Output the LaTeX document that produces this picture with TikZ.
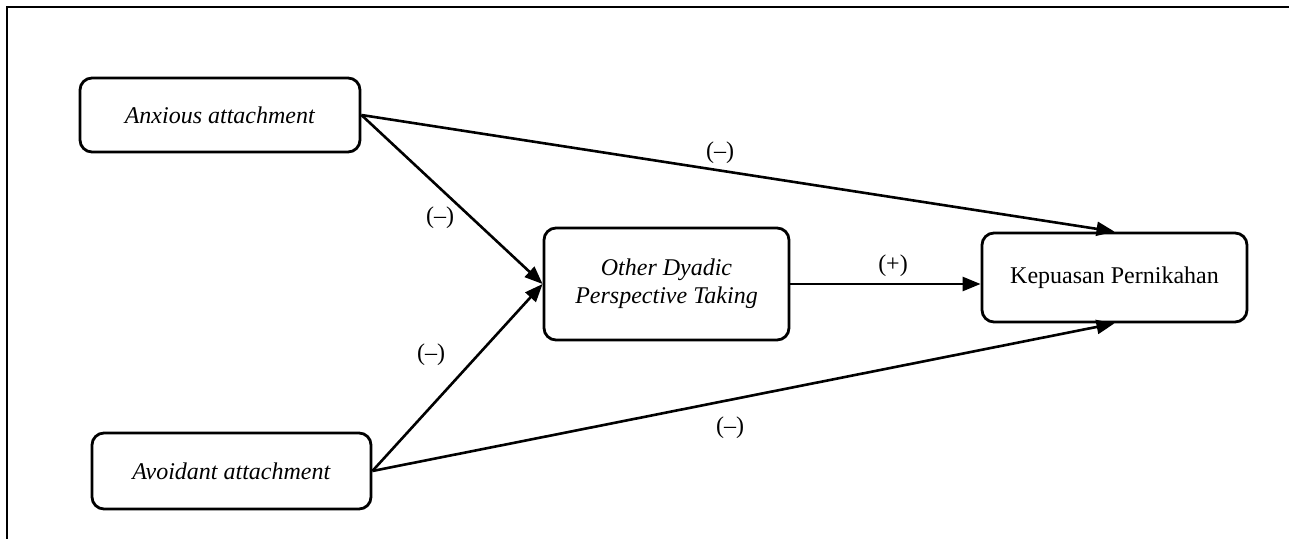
\documentclass[tikz,border=0pt]{standalone}
\usepackage{fontspec}
\setmainfont{Liberation Serif}
\usetikzlibrary{arrows.meta}
\tikzset{
varbox/.style={draw, line width=1.4pt, rounded corners=6pt, align=center, font=\fontsize{12}{14}\selectfont},
link/.style={line width=1.3pt, -{Triangle[length=9pt, width=7pt]}},
sign/.style={font=\fontsize{12}{14}\selectfont}
}
\begin{document}
\begin{tikzpicture}[x=0.5pt, y=-0.5pt]
\useasboundingbox (0,0) rectangle (1289,539);
\draw[line width=1.1pt] (7,539) -- (7,7) -- (1289,7);
% variables
\node[varbox, minimum width=140pt, minimum height=37pt] (anx) at (220,115) {\textit{Anxious attachment}};
\node[varbox, minimum width=139.5pt, minimum height=38pt] (avo) at (231.5,471) {\textit{Avoidant attachment}};
\node[varbox, minimum width=122.5pt, minimum height=56pt] (odpt) at (666.5,284) {\textit{Other Dyadic}\\\textit{Perspective Taking}};
\node[varbox, minimum width=132.5pt, minimum height=44.5pt] (kep) at (1114.5,277.5) {Kepuasan Pernikahan};
% paths
\draw[link] (anx.east) -- (odpt.west);
\draw[link] (avo.east) -- (odpt.west);
\draw[link] (anx.east) -- (kep.north);
\draw[link] (avo.east) -- (kep.south);
\draw[link] (odpt.east) -- (odpt.east -| kep.west);
\node[sign] (s1) at (440,218) {(–)};
\node[sign] (s2) at (431,355) {(–)};
\node[sign] (s3) at (720,153) {(–)};
\node[sign] (s4) at (893,266) {(+)};
\node[sign] (s5) at (730,428) {(–)};
\end{tikzpicture}
\end{document}
